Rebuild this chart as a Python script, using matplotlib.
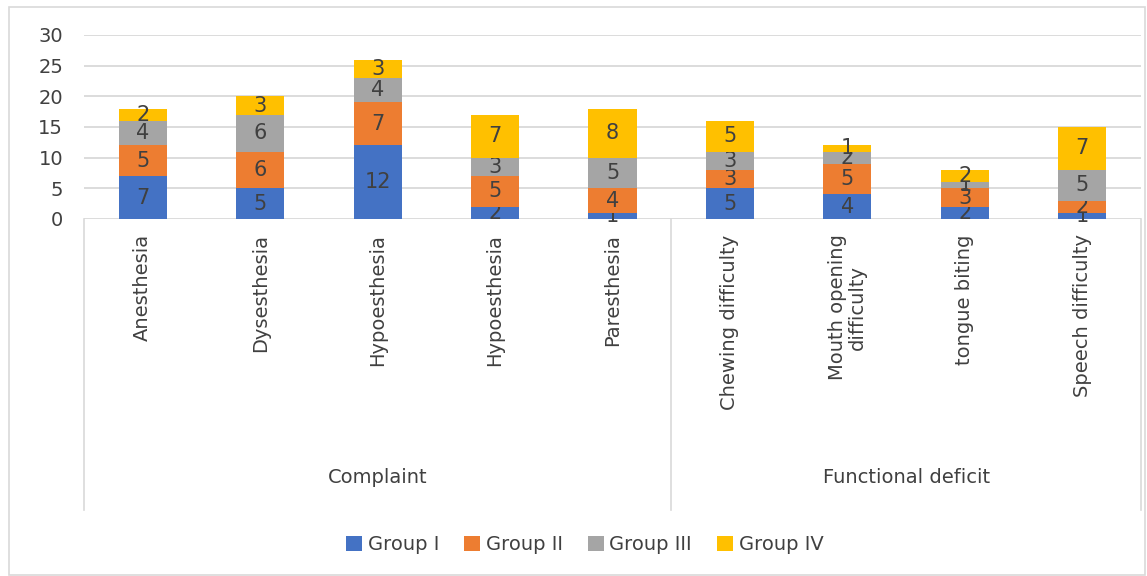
import numpy as np
import matplotlib.pyplot as plt
from matplotlib.patches import Rectangle

categories = ["Anesthesia", "Dysesthesia", "Hypoesthesia", "Hypoesthesia", "Paresthesia",
              "Chewing difficulty", "Mouth opening\ndifficulty", "tongue biting", "Speech difficulty"]
groups = ["Complaint", "Functional deficit"]
group_sizes = [5, 4]
series_names = ["Group I", "Group II", "Group III", "Group IV"]
group1 = [7, 5, 12, 2, 1, 5, 4, 2, 1]
group2 = [5, 6, 7, 5, 4, 3, 5, 3, 2]
group3 = [4, 6, 4, 3, 5, 3, 2, 1, 5]
group4 = [2, 3, 3, 7, 8, 5, 1, 2, 7]
colors = ["#4472C4", "#ED7D31", "#A5A5A5", "#FFC000"]

W, H = 1147, 576
fig = plt.figure(figsize=(W / 100, H / 100), dpi=100)
ax = fig.add_axes([84 / W, 1 - 219 / H, (1141 - 84) / W, (219 - 35) / H])

txt = "#404040"
grid = "#d9d9d9"
x = np.arange(len(categories))
bottom = np.zeros(len(categories))
for name, vals, c in zip(series_names, [group1, group2, group3, group4], colors):
    bars = ax.bar(x, vals, 0.41, bottom=bottom, color=c, label=name, zorder=3)
    ax.bar_label(bars, label_type="center", fontsize=15, color=txt)
    bottom += np.array(vals)

ax.set_xlim(-0.5, len(categories) - 0.5)
ax.set_ylim(0, 30)
ax.set_yticks(range(0, 31, 5))
ax.tick_params(axis="y", length=0, labelsize=14, labelcolor=txt, pad=15)
ax.set_xticks([])
for s in ax.spines.values():
    s.set_visible(False)
ax.grid(axis="y", color=grid, lw=1.3, zorder=0)

# category labels and hierarchical separators
for i, lab in enumerate(categories):
    ax.text(i, -2.5, lab, rotation=90, ha="center", va="top", fontsize=14,
            color=txt, linespacing=1.0)
edges = np.concatenate([[0], np.cumsum(group_sizes)]) - 0.5
for e in edges:
    ax.plot([e, e], [0, -47.5], color=grid, lw=1.2, clip_on=False)
for g, a, b in zip(groups, edges[:-1], edges[1:]):
    ax.text((a + b) / 2, -42.2, g, ha="center", va="center", fontsize=14, color=txt)

fig.legend(loc="center", bbox_to_anchor=(0.51, 1 - 545 / H), ncol=4, frameon=False,
           fontsize=14, labelcolor=txt, handlelength=0.8, handleheight=0.8,
           handletextpad=0.3, columnspacing=1.3)

fig.patches.append(Rectangle((9 / W, 1 - 575 / H), (1145 - 9) / W, (575 - 7) / H,
                             transform=fig.transFigure, fill=False, edgecolor=grid, lw=1.2))

fig.savefig("out.png", dpi=100)
